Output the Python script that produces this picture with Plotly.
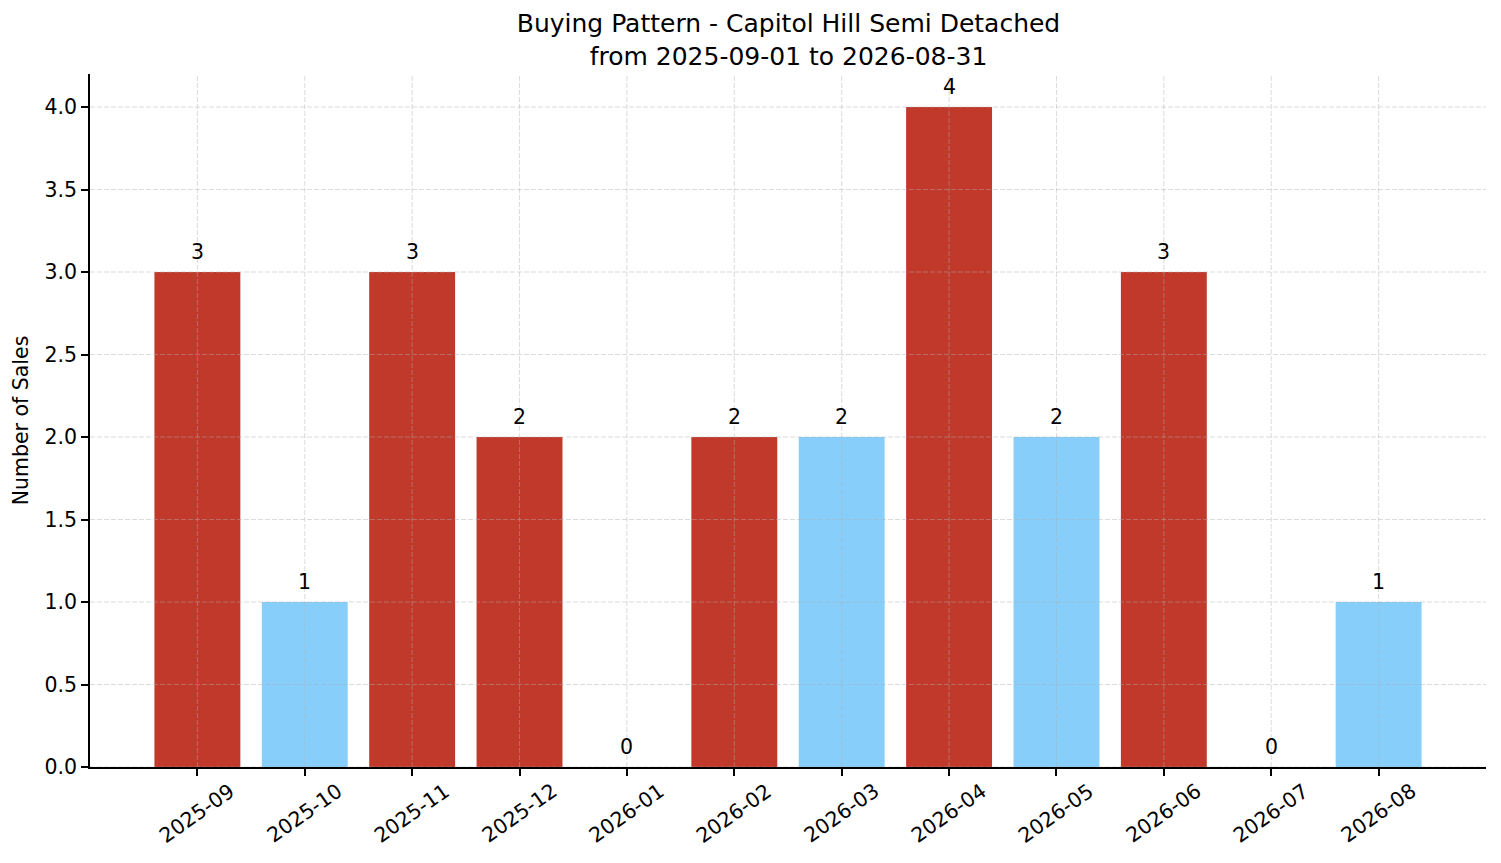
import plotly.graph_objects as go

months = ["2025-09", "2025-10", "2025-11", "2025-12", "2026-01", "2026-02",
          "2026-03", "2026-04", "2026-05", "2026-06", "2026-07", "2026-08"]
sales = [3, 1, 3, 2, 0, 2, 2, 4, 2, 3, 0, 1]
bar_colors = ["#C0392B", "#87CEFA", "#C0392B", "#C0392B", "#C0392B", "#C0392B",
              "#87CEFA", "#C0392B", "#87CEFA", "#C0392B", "#C0392B", "#87CEFA"]
y_ticks = [0.0, 0.5, 1.0, 1.5, 2.0, 2.5, 3.0, 3.5, 4.0]

font = "DejaVu Sans"
fsize = 20.5
grid_color = "rgba(176,176,176,0.45)"

# the page body adds an 8px margin, so the figure is a little smaller
W, H = 1493, 855

fig = go.Figure()
fig.add_trace(
    go.Bar(
        x=list(range(len(months))),
        y=sales,
        marker=dict(color=bar_colors, line=dict(width=0)),
        width=0.8,
        hoverinfo="y",
    )
)

# value labels above each bar
for i, v in enumerate(sales):
    fig.add_annotation(x=i, y=v, text=str(v), showarrow=False,
                       yanchor="bottom", yshift=6,
                       font=dict(family=font, size=fsize, color="black"))

# rotated month labels centred under their ticks (matplotlib style)
for i, m in enumerate(months):
    fig.add_annotation(x=i, y=0, yref="paper", text=m, showarrow=False,
                       textangle=-35, xanchor="center", yanchor="top", yshift=-9,
                       font=dict(family=font, size=fsize, color="black"))

# dashed grid drawn on top of the bars
for i in range(len(months)):
    fig.add_vline(x=i, layer="above", line=dict(color=grid_color, width=1, dash="5px,2px"))
for t in y_ticks:
    fig.add_hline(y=t, layer="above", line=dict(color=grid_color, width=1, dash="5px,2px"))

fig.update_layout(
    width=W, height=H,
    margin=dict(l=82, r=15, t=66, b=96, autoexpand=False),
    plot_bgcolor="white", paper_bgcolor="white",
    showlegend=False,
    font=dict(family=font, size=fsize, color="black"),
    title=dict(
        text="Buying Pattern - Capitol Hill Semi Detached<br>from 2025-09-01 to 2026-08-31",
        x=780.5 / W, xanchor="center", y=1 - 24 / H, yanchor="middle",
        font=dict(family=font, size=25, color="black"),
    ),
)
fig.update_xaxes(
    range=[-1, len(months)],
    tickmode="array", tickvals=list(range(len(months))), showticklabels=False,
    ticks="outside", ticklen=7, tickwidth=1.5, tickcolor="black",
    showgrid=False, zeroline=False, automargin=False,
    showline=True, linecolor="black", linewidth=1.7,
)
fig.update_yaxes(
    range=[0, 4.2],
    tickmode="array", tickvals=y_ticks, ticktext=[f"{t:.1f}" for t in y_ticks],
    ticks="outside", ticklen=7, tickwidth=1.5, tickcolor="black",
    showgrid=False, zeroline=False, automargin=False,
    showline=True, linecolor="black", linewidth=1.7,
    tickfont=dict(family=font, size=fsize),
    title=dict(text="Number of Sales", font=dict(family=font, size=fsize), standoff=10),
)

fig.write_html("out.html")
